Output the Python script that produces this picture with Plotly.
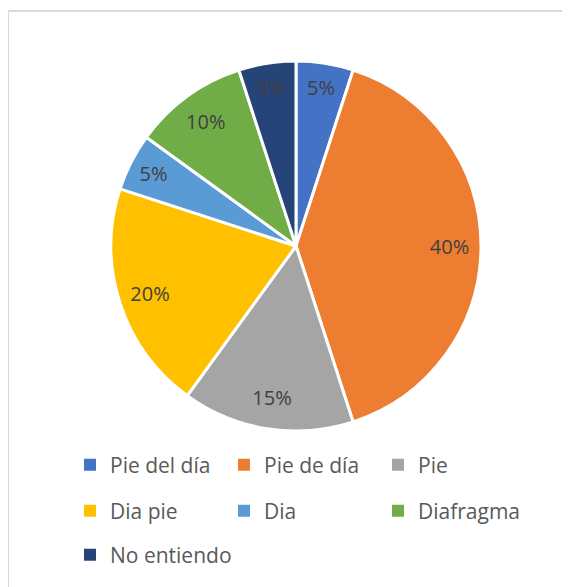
import plotly.graph_objects as go

labels = ["Pie del día", "Pie de día", "Pie", "Dia pie", "Dia", "Diafragma", "No entiendo"]
values = [5, 40, 15, 20, 5, 10, 5]
colors = ["#4472C4", "#ED7D31", "#A5A5A5", "#FFC000", "#5B9BD5", "#70AD47", "#264478"]

W, H = 570, 587
OFF = 8  # page body margin offset
cx, cy, r = 296 - OFF, 246 - OFF, 185
dom = dict(x=[(cx - r) / W, (cx + r) / W], y=[1 - (cy + r) / H, 1 - (cy - r) / H])

fig = go.Figure()
# coloured slices
fig.add_trace(go.Pie(
    labels=labels, values=values, sort=False, direction="clockwise", rotation=0,
    showlegend=False,
    marker=dict(colors=colors, line=dict(color="white", width=3)),
    textinfo="none",
    domain=dom,
    hoverinfo="label+percent",
))
# transparent ring carrying the percentage labels near the outer edge
fig.add_trace(go.Pie(
    labels=labels, values=values, sort=False, direction="clockwise", rotation=0,
    showlegend=False, hole=0.66,
    marker=dict(colors=["rgba(0,0,0,0)"] * len(values), line=dict(width=0)),
    texttemplate="%{percent:.0%}",
    textposition="inside",
    insidetextorientation="horizontal",
    textfont=dict(family="Open Sans", size=20, color="#404040"),
    domain=dom,
    hoverinfo="skip",
))

# legend: one small legend per entry, laid out in 3 columns
col_x = [89, 243, 397]
row_y = [465, 511, 555]
legend_ids = ["legend", "legend2", "legend3", "legend4", "legend5", "legend6", "legend7"]
legends = {}
for i, (lab, col, lg) in enumerate(zip(labels, colors, legend_ids)):
    fig.add_trace(go.Scatter(
        x=[None], y=[None], mode="markers", name=lab,
        marker=dict(symbol="square", size=10, color=col),
        legend=lg, showlegend=True, hoverinfo="skip",
    ))
    legends[lg] = dict(
        orientation="h",
        x=(col_x[i % 3] - OFF - 19) / W, xanchor="left",
        y=1 - (row_y[i // 3] - OFF) / H, yanchor="middle",
        font=dict(family="Open Sans", size=21, color="#595959"),
        itemsizing="constant",
        bgcolor="rgba(0,0,0,0)",
    )

fig.update_layout(
    width=W, height=H,
    margin=dict(l=0, r=0, t=0, b=0),
    paper_bgcolor="white",
    plot_bgcolor="white",
    xaxis=dict(visible=False),
    yaxis=dict(visible=False),
    shapes=[dict(type="rect", xref="paper", yref="paper",
                 x0=0, x1=1.05, y0=-0.05, y1=1 - (11 - OFF) / H,
                 line=dict(color="#D9D9D9", width=2), layer="below")],
    **legends,
)

fig.write_html("out.html")
